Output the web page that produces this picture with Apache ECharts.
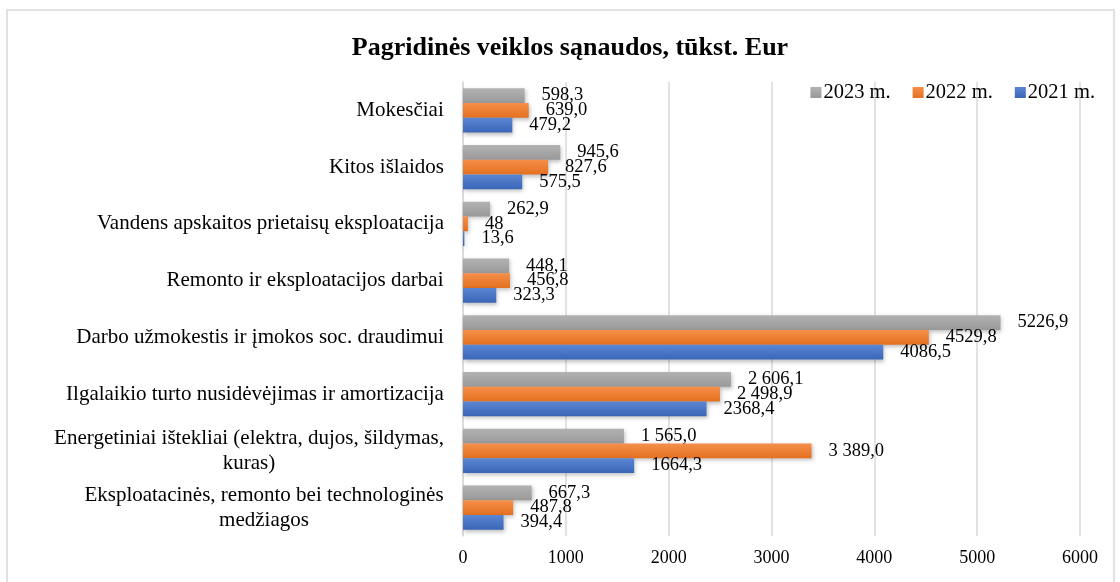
<!DOCTYPE html>
<html>
<head>
<meta charset="utf-8">
<script src="https://cdn.jsdelivr.net/npm/echarts@6/dist/echarts.min.js"></script>
<style>
  html, body { margin: 0; padding: 0; background: #fff; }
  #main { width: 1120px; height: 582px; }
</style>
</head>
<body>
<div id="main"></div>
<script>
// categories listed bottom -> top
var categories = [
    'Eksploatacinės, remonto bei technologinės\nmedžiagos',
    'Energetiniai ištekliai (elektra, dujos, šildymas,\nkuras)',
    'Ilgalaikio turto nusidėvėjimas ir amortizacija',
    'Darbo užmokestis ir įmokos soc. draudimui',
    'Remonto ir eksploatacijos darbai',
    'Vandens apskaitos prietaisų eksploatacija',
    'Kitos išlaidos',
    'Mokesčiai'
];
var y2021 = [394.4, 1664.3, 2368.4, 4086.5, 323.3, 13.6, 575.5, 479.2];
var y2022 = [487.8, 3389.0, 2498.9, 4529.8, 456.8, 48, 827.6, 639.0];
var y2023 = [667.3, 1565.0, 2606.1, 5226.9, 448.1, 262.9, 945.6, 598.3];
// value labels as printed on the chart
var lab2021 = ['394,4', '1664,3', '2368,4', '4086,5', '323,3', '13,6', '575,5', '479,2'];
var lab2022 = ['487,8', '3 389,0', '2 498,9', '4529,8', '456,8', '48', '827,6', '639,0'];
var lab2023 = ['667,3', '1 565,0', '2 606,1', '5226,9', '448,1', '262,9', '945,6', '598,3'];
var xTicks = [0, 1000, 2000, 3000, 4000, 5000, 6000];

var font = 'Liberation Serif, Times New Roman, serif';
var catSize = 21;

// multi-line category labels: centre the lines inside the block
var ctx = document.createElement('canvas').getContext('2d');
ctx.font = catSize + 'px "Liberation Serif"';
var catRich = {};
categories.forEach(function (c, i) {
    var w = 0;
    c.split('\n').forEach(function (line) {
        w = Math.max(w, ctx.measureText(line).width);
    });
    catRich['l' + i] = {
        width: Math.ceil(w) + 2,
        align: 'center',
        fontFamily: font,
        fontSize: catSize,
        lineHeight: 25,
        color: '#000'
    };
});

function grad(top, bottom) {
    return new echarts.graphic.LinearGradient(0, 0, 0, 1, [
        {offset: 0, color: top},
        {offset: 1, color: bottom}
    ]);
}

function makeSeries(name, data, labels, c1, c2) {
    return {
        name: name,
        type: 'bar',
        data: data,
        barCategoryGap: '22%',
        barGap: '0%',
        itemStyle: {
            color: grad(c1, c2),
            shadowColor: 'rgba(0,0,0,0.25)',
            shadowBlur: 4,
            shadowOffsetX: 1,
            shadowOffsetY: 2
        },
        label: {
            show: true,
            position: 'right',
            distance: 17,
            color: '#000',
            fontFamily: font,
            fontSize: 18.5,
            formatter: function (p) {
                return labels[p.dataIndex];
            }
        }
    };
}

var myChart = echarts.init(document.getElementById('main'));
myChart.setOption({
    backgroundColor: '#fff',
    animation: false,
    graphic: [{
        type: 'rect',
        shape: {x: 7, y: 10, width: 1107, height: 620},
        style: {fill: 'none', stroke: '#d9d9d9', lineWidth: 1.5}
    }],
    title: {
        text: 'Pagridinės veiklos sąnaudos, tūkst. Eur',
        left: 565,
        textAlign: 'center',
        top: 30,
        textStyle: {
            fontFamily: font,
            fontWeight: 'bold',
            fontSize: 26,
            color: '#000'
        }
    },
    legend: {
        data: ['2023 m.', '2022 m.', '2021 m.'],
        right: 20,
        top: 77,
        itemWidth: 11,
        itemHeight: 11,
        itemGap: 22,
        icon: 'rect',
        textStyle: {
            fontFamily: font,
            fontSize: 20.5,
            color: '#000',
            padding: [0, 0, 0, -3]
        }
    },
    grid: {
        left: 463,
        right: 40,
        top: 82,
        bottom: 46
    },
    xAxis: {
        type: 'value',
        min: 0,
        max: 6000,
        interval: 1000,
        axisLine: {show: false},
        axisTick: {show: false},
        splitLine: {lineStyle: {color: '#d9d9d9', width: 1.5}},
        axisLabel: {
            color: '#000',
            fontFamily: font,
            fontSize: 18,
            margin: 13,
            formatter: function (v) {
                return xTicks.indexOf(v) >= 0 ? String(v) : '';
            }
        }
    },
    yAxis: {
        type: 'category',
        data: categories,
        axisLine: {show: true, lineStyle: {color: '#d9d9d9', width: 1.5}},
        axisTick: {show: false},
        axisLabel: {
            color: '#000',
            fontFamily: font,
            fontSize: catSize,
            margin: 18,
            align: 'right',
            formatter: function (v, i) {
                return v.split('\n').map(function (line) {
                    return '{l' + i + '|' + line + '}';
                }).join('\n');
            },
            rich: catRich
        }
    },
    series: [
        makeSeries('2023 m.', y2023, lab2023, '#b2b2b2', '#999999'),
        makeSeries('2022 m.', y2022, lab2022, '#f58f4a', '#e4701f'),
        makeSeries('2021 m.', y2021, lab2021, '#5b86d3', '#3a66b8')
    ]
});
</script>
</body>
</html>
